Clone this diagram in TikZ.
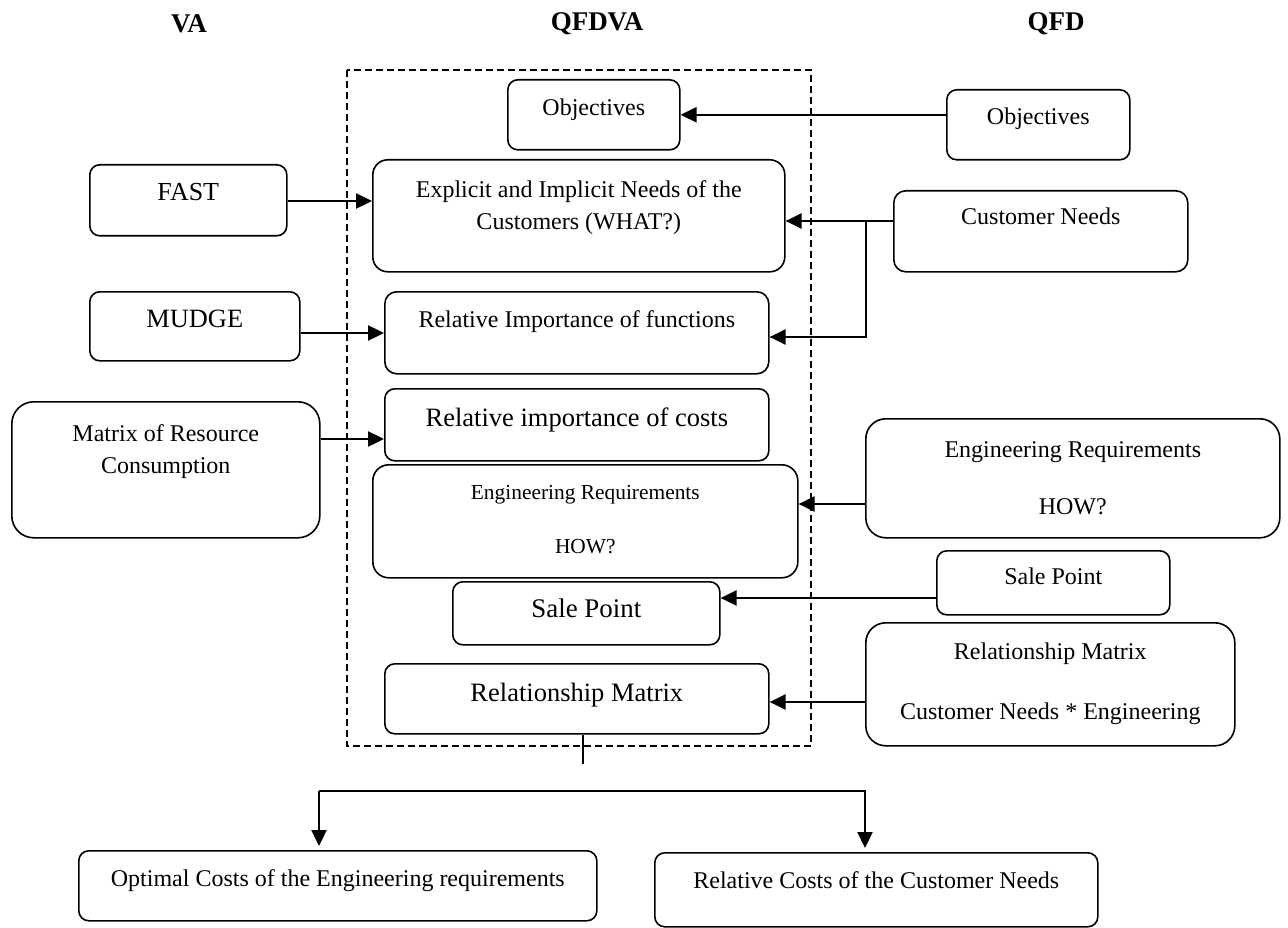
\documentclass[tikz,border=0pt]{standalone}
\usepackage{fontspec}
\setmainfont{Liberation Serif}
\usetikzlibrary{arrows.meta}

\tikzset{
  box/.style={draw, line width=1.6pt, rounded corners=10pt, anchor=north west, inner sep=0pt},
  lbl/.style={anchor=north, align=center, inner sep=0pt, font=\fontsize{24}{32}\selectfont},
  lblbig/.style={lbl, font=\fontsize{26.5}{32}\selectfont},
  head/.style={font=\fontsize{27}{32}\selectfont\bfseries},
  arr/.style={-{Triangle[length=16pt,width=15pt]}, line width=2.4pt},
  link/.style={line width=2pt},
  frame/.style={line width=1.3pt, dash pattern=on 7pt off 4pt},
}

\begin{document}
\begin{tikzpicture}[x=1pt, y=-1pt]
  \useasboundingbox (0,0) rectangle (1288,928);

  % column heads
  \node[head] (hVA) at (189,24) {VA};
  \node[head] (hQV) at (597,24) {QFDVA};
  \node[head] (hQ) at (1056,24) {QFD};

  % QFDVA frame
  \draw[frame] (347,70) rectangle (811,746);

  % QFDVA column
  \node[box, minimum width=172pt, minimum height=70pt,
        label={[lbl, yshift=-20pt]north:Objectives}] (qvObj) at (507,79) {};
  \node[box, minimum width=412pt, minimum height=112pt, rounded corners=15pt,
        label={[lbl, yshift=-21pt]north:{Explicit and Implicit Needs of the\\Customers (WHAT?)}}] (qvNeeds) at (372,159) {};
  \node[box, minimum width=384pt, minimum height=82pt, rounded corners=12pt,
        label={[lbl, yshift=-19pt]north:Relative Importance of functions}] (qvFunc) at (384,291) {};
  \node[box, minimum width=384pt, minimum height=72pt,
        label={[lblbig, yshift=-20pt]north:Relative importance of costs}] (qvCost) at (384,388) {};
  \node[box, minimum width=425pt, minimum height=113pt, rounded corners=16pt,
        label={[lbl, yshift=-21pt, font=\fontsize{21.4}{54}\selectfont]north:{Engineering Requirements\\HOW?}}] (qvEng) at (372,464) {};
  \node[box, minimum width=267pt, minimum height=63pt,
        label={[lbl, yshift=-18pt, font=\fontsize{26.9}{32}\selectfont]north:Sale Point}] (qvSale) at (452,581) {};
  \node[box, minimum width=384pt, minimum height=70pt,
        label={[lblbig, yshift=-20pt]north:Relationship Matrix}] (qvRel) at (384,663) {};

  % VA column
  \node[box, minimum width=197pt, minimum height=71pt,
        label={[lbl, yshift=-19pt, font=\fontsize{26}{32}\selectfont]north:FAST}] (vaFast) at (89,164) {};
  \node[box, minimum width=210pt, minimum height=69pt,
        label={[lbl, yshift=-19pt, font=\fontsize{26.4}{32}\selectfont]north:MUDGE}] (vaMudge) at (89,291) {};
  \node[box, minimum width=308pt, minimum height=136pt, rounded corners=22pt,
        label={[lbl, yshift=-23pt]north:{Matrix of Resource\\Consumption}}] (vaMatrix) at (11,401) {};

  % QFD column
  \node[box, minimum width=183pt, minimum height=70pt,
        label={[lbl, yshift=-19pt]north:Objectives}] (qObj) at (946,89) {};
  \node[box, minimum width=294pt, minimum height=81pt, rounded corners=12pt,
        label={[lbl, yshift=-18pt]north:Customer Needs}] (qNeeds) at (893,190) {};
  \node[box, minimum width=414pt, minimum height=119pt, rounded corners=20pt,
        label={[lbl, yshift=-23pt, font=\fontsize{24}{57}\selectfont]north:{Engineering Requirements\\HOW?}}] (qEng) at (865,418) {};
  \node[box, minimum width=233pt, minimum height=64pt,
        label={[lbl, yshift=-18pt]north:Sale Point}] (qSale) at (936,550) {};
  \node[box, minimum width=369pt, minimum height=123pt, rounded corners=20pt,
        label={[lbl, yshift=-21pt, font=\fontsize{24}{60}\selectfont]north:{Relationship Matrix\\Customer Needs * Engineering}}] (qRel) at (865,622) {};

  % results
  \node[box, minimum width=518pt, minimum height=70pt,
        label={[lbl, yshift=-19pt]north:Optimal Costs of the Engineering requirements}] (oCost) at (78,850) {};
  \node[box, minimum width=443pt, minimum height=74pt,
        label={[lbl, yshift=-19pt]north:Relative Costs of the Customer Needs}] (rCost) at (654,852) {};

  % VA -> QFDVA
  \draw[arr] (vaFast.east |- 0,201) -- (qvNeeds.west |- 0,201);
  \draw[arr] (vaMudge.east |- 0,333) -- (qvFunc.west |- 0,333);
  \draw[arr] (vaMatrix.east |- 0,439) -- (qvCost.west |- 0,439);

  % QFD -> QFDVA
  \draw[arr] (qObj.west |- qvObj.east) -- (qvObj.east);
  \coordinate (nb) at (866,221);
  \draw[arr] (qNeeds.west |- nb) -- (qvNeeds.east |- nb);
  \draw[arr] (nb) |- (qvFunc.east |- 0,337);
  \draw[arr] (qEng.west |- 0,504) -- (qvEng.east |- 0,504);
  \draw[arr] (qSale.west |- 0,598) -- (qvSale.east |- 0,598);
  \draw[arr] (qRel.west |- 0,702) -- (qvRel.east |- 0,702);

  % results
  \coordinate (cut) at (583,764);
  \draw[link] (qvRel.south -| cut) -- (cut);
  \coordinate (forkL) at (319,791);
  \coordinate (forkR) at (865,791);
  \draw[arr, shorten >=4pt] (forkL) -- (forkR) -- (rCost.north -| forkR);
  \draw[arr, shorten >=4pt] (forkL) -- (oCost.north -| forkL);
\end{tikzpicture}
\end{document}
